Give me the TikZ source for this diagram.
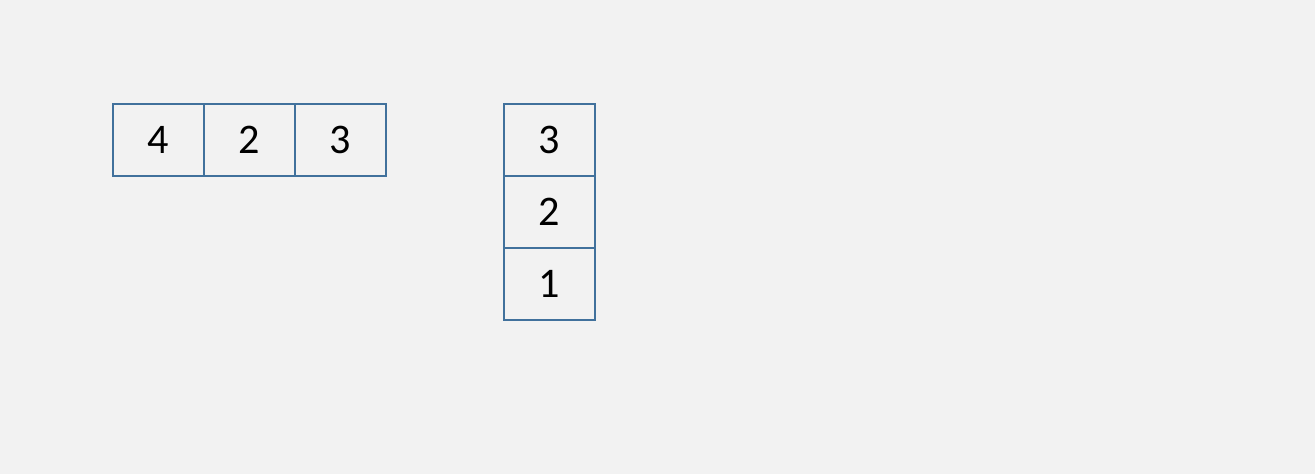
\documentclass[tikz,border=0pt]{standalone}
\usepackage{fontspec}
\setmainfont{Carlito}
\usetikzlibrary{positioning}
\definecolor{bgcol}{RGB}{242,242,242}
\definecolor{cellline}{RGB}{65,113,156}

\begin{document}
\begin{tikzpicture}[font=\fontsize{24}{28}\selectfont,
  cell/.style={draw=cellline, line width=1.1pt, outer sep=0pt, inner sep=0pt,
    minimum width=1.82cm, minimum height=1.44cm}]
  \fill[bgcol] (0,0) rectangle (26.3,-9.48);
  \useasboundingbox (0,0) rectangle (26.3,-9.48);
  % row
  \node[cell] (r1) at (3.17,-2.8) {4};
  \node[cell, right=0pt of r1] (r2) {2};
  \node[cell, right=0pt of r2] (r3) {3};
  % column
  \node[cell] (c1) at (10.99,-2.8) {3};
  \node[cell, below=0pt of c1] (c2) {2};
  \node[cell, below=0pt of c2] (c3) {1};
\end{tikzpicture}
\end{document}
